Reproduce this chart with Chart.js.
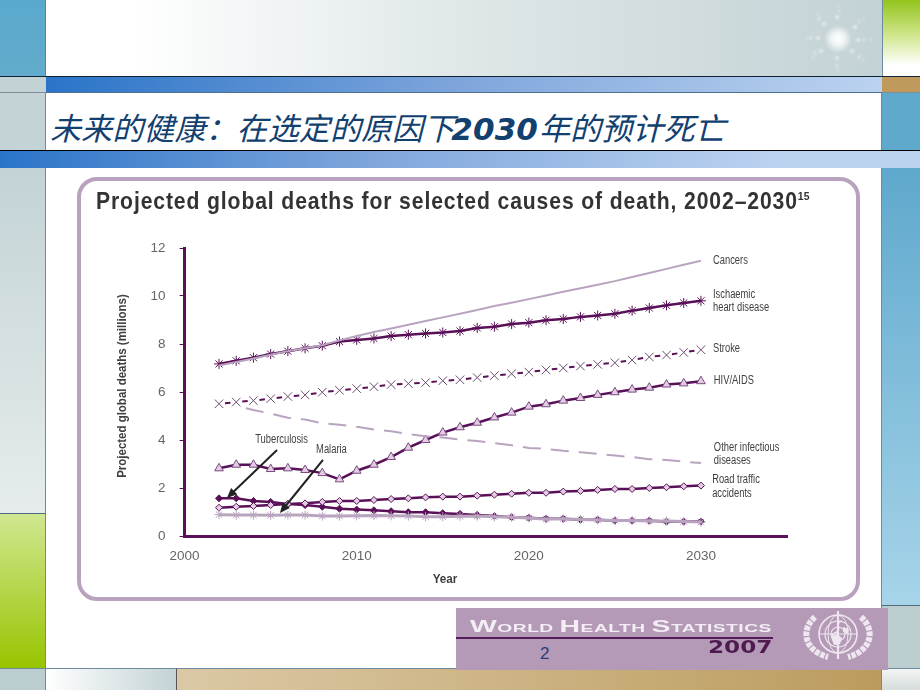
<!DOCTYPE html>
<html>
<head>
<meta charset="utf-8">
<title>Projected global deaths</title>
<script src="https://cdn.jsdelivr.net/npm/chart.js@4"></script>
<style>
  html, body { margin: 0; padding: 0; background: #fff; }
  #slide { position: relative; width: 920px; height: 690px; overflow: hidden; background: #fff; }
  #slide div.b { position: absolute; box-sizing: border-box; }
  #panel { left: 77px; top: 177px; width: 783px; height: 424px; background: #fff; border: 4px solid #b9a2bd; border-radius: 20px; }
  #chartCanvas { position: absolute; left: 77px; top: 177px; }
  #heading { position: absolute; left: 50px; top: 104px; white-space: nowrap; color: #12406f; font: italic 31px "Noto Sans CJK SC", sans-serif; line-height: 46px; letter-spacing: 0.1px; }
  #heading b { font: italic bold 31px "DejaVu Sans", sans-serif; margin-left: -3px; margin-right: 1px; }
  #wordmark { position: absolute; left: 470px; top: 618px; color: #f3edf4; font: bold 11.5px/18px "Liberation Sans", sans-serif; white-space: nowrap; letter-spacing: 0.3px; transform: scaleX(1.67); transform-origin: left top; }
  #wordmark span { font-size: 17px; }
  #year2007 { position: absolute; left: 708px; top: 639px; color: #4e1a50; font: bold 17px/17px "DejaVu Sans", sans-serif; transform: scaleX(1.36); transform-origin: left top; }
  #pageNo { position: absolute; left: 540px; top: 644px; color: #2c3a78; font: 17px "Liberation Sans", sans-serif; }
</style>
</head>
<body>
<div id="slide">
  <!-- top row -->
  <div class="b" style="left:0;top:0;width:46px;height:77px;background:linear-gradient(#5aa9cd,#62abcc);border-right:1px solid #4d86a6"></div>
  <div class="b" style="left:46px;top:0;width:836px;height:77px;background:linear-gradient(90deg,#fff 10%,#dfe7e8 50%,#c3d2d5 100%)"></div>
  <div class="b" style="left:882px;top:0;width:38px;height:77px;background:linear-gradient(#93c41d,#cfe58a 45%,#fff 85%);border-left:1px solid #6d8ba0"></div>
  <!-- upper band -->
  <div class="b" style="left:0;top:76px;width:46px;height:17px;background:#c3d2d5;border-top:1px solid #123;border-bottom:1px solid #7f8f99"></div>
  <div class="b" style="left:46px;top:76px;width:836px;height:17px;background:linear-gradient(90deg,#2a74c8,#7fa6dc 50%,#bcd3f0);border-top:1px solid #123;border-bottom:1px solid #50708f"></div>
  <div class="b" style="left:882px;top:76px;width:38px;height:17px;background:#bf9a5c;border-top:1px solid #123;border-bottom:1px solid #7f8f99"></div>
  <!-- heading row -->
  <div class="b" style="left:0;top:93px;width:46px;height:57px;background:#c3d3d6;border-right:1px solid #6d8ba0"></div>
  <div class="b" style="left:881px;top:93px;width:39px;height:57px;background:#5fa9cd;border-left:1px solid #6d8ba0"></div>
  <!-- lower band -->
  <div class="b" style="left:0;top:150px;width:920px;height:18px;background:linear-gradient(90deg,#2a74c8,#7fa6dc 40%,#bcd3f0 85%);border-top:1px solid #000"></div>
  <!-- side columns -->
  <div class="b" style="left:0;top:168px;width:46px;height:346px;background:linear-gradient(#c3d3d6,#e6ecec);border-right:1px solid #6d8ba0;border-bottom:1px solid #4d6a80"></div>
  <div class="b" style="left:0;top:514px;width:46px;height:155px;background:linear-gradient(#d0e791,#98c400);border-right:1px solid #6d8ba0"></div>
  <div class="b" style="left:0;top:668px;width:46px;height:22px;background:#bccdd0;border-top:1px solid #6d8ba0;border-right:1px solid #6d8ba0"></div>
  <div class="b" style="left:881px;top:168px;width:39px;height:437px;background:linear-gradient(#5ea8cd,#a7d4e9);border-left:1px solid #6d8ba0"></div>
  <div class="b" style="left:881px;top:605px;width:39px;height:64px;background:#bccdd0;border-left:1px solid #6d8ba0;border-top:1px solid #4d6a80"></div>
  <!-- bottom row -->
  <div class="b" style="left:46px;top:668px;width:131px;height:22px;background:linear-gradient(90deg,#fff,#c3d2d5);border-top:1px solid #6d8ba0;border-right:1px solid #555"></div>
  <div class="b" style="left:177px;top:668px;width:705px;height:22px;background:linear-gradient(90deg,#dbc8a5,#bb9c5e);border-top:1px solid #6d8ba0"></div>
  <div class="b" style="left:881px;top:668px;width:39px;height:22px;background:linear-gradient(#f4f4f4,#d5dcdc);border-top:1px solid #6d8ba0;border-left:1px solid #6d8ba0"></div>
  <!-- sparkle -->
  <svg style="position:absolute;left:800px;top:0" width="80" height="77">
    <defs>
      <radialGradient id="glow"><stop offset="0" stop-color="#fff"/><stop offset="0.45" stop-color="#fff" stop-opacity="0.75"/><stop offset="1" stop-color="#fff" stop-opacity="0"/></radialGradient>
      <filter id="soft"><feGaussianBlur stdDeviation="0.8"/></filter>
    </defs>
    <circle cx="38" cy="39" r="14" fill="url(#glow)"/>
    <g fill="#fff" fill-opacity="0.55" filter="url(#soft)">
      <circle cx="37" cy="17" r="2"/><circle cx="39" cy="11" r="1.2"/><circle cx="38" cy="6" r="1"/>
      <circle cx="55" cy="27" r="2"/><circle cx="59" cy="21" r="1.2"/><circle cx="64" cy="19" r="1"/>
      <circle cx="58" cy="40" r="2"/><circle cx="64" cy="40" r="1.4"/><circle cx="70" cy="40" r="1"/>
      <circle cx="52" cy="51" r="2"/><circle cx="59" cy="57" r="1.4"/><circle cx="63" cy="60" r="1"/>
      <circle cx="37" cy="58" r="2"/><circle cx="37" cy="66" r="1.4"/><circle cx="38" cy="70" r="1"/>
      <circle cx="21" cy="51" r="2"/><circle cx="15" cy="53" r="1.4"/><circle cx="13" cy="58" r="1"/>
      <circle cx="18" cy="38" r="2"/><circle cx="11" cy="38" r="1.4"/><circle cx="7" cy="38" r="1"/>
      <circle cx="24" cy="24" r="2"/><circle cx="19" cy="19" r="1.4"/><circle cx="18" cy="14" r="1"/>
    </g>
  </svg>
  <div id="heading">未来的健康：在选定的原因下<b>2030</b>年的预计死亡</div>
  <div class="b" id="panel"></div>
  <canvas id="chartCanvas" width="783" height="424"></canvas>
  <!-- report logo -->
  <div class="b" style="left:456px;top:608px;width:432px;height:62px;background:#b59ab8"></div>
  <div class="b" style="left:456px;top:637px;width:317px;height:2px;background:#551b57"></div>
  <div id="wordmark"><span>W</span>ORLD <span>H</span>EALTH <span>S</span>TATISTICS</div>
  <div id="year2007">2007</div>
  <div id="pageNo">2</div>
  <svg style="position:absolute;left:802px;top:609px" width="72" height="54">
    <g fill="none" stroke="#efe7f0">
      <circle cx="36" cy="25" r="19" stroke-width="1.6"/>
      <circle cx="36" cy="25" r="13" stroke-width="1.2"/>
      <circle cx="36" cy="25" r="7" stroke-width="1.2"/>
      <ellipse cx="36" cy="25" rx="10" ry="19" stroke-width="1"/>
      <path d="M17 25H55" stroke-width="1"/>
      <path d="M36 2V50" stroke-width="2.2"/>
      <path d="M40 12C30 15 42 20 33 24S42 30 35 36" stroke-width="1.8"/>
      <path d="M13 8C-1 20 1 41 26 48M59 8C73 20 71 41 46 48" stroke-width="6" stroke-dasharray="4.5 1.2"/>
    </g>
    <path d="M29 28l6-3 5 4-2 6-6 1zM41 18l6 2-1 5-5-2z" fill="#efe7f0"/>
  </svg>
</div>

<script>
// year 2002..2030, values in millions
const years = [2002, 2003, 2004, 2005, 2006, 2007, 2008, 2009, 2010, 2011, 2012, 2013, 2014, 2015, 2016, 2017, 2018, 2019, 2020, 2021, 2022, 2023, 2024, 2025, 2026, 2027, 2028, 2029, 2030];
const cancers = [7.1, 7.25, 7.4, 7.55, 7.7, 7.82, 7.95, 8.15, 8.33, 8.5, 8.65, 8.8, 8.96, 9.11, 9.26, 9.42, 9.58, 9.72, 9.87, 10.02, 10.18, 10.32, 10.47, 10.62, 10.79, 10.96, 11.13, 11.3, 11.47];
const ischaemic = [7.17, 7.3, 7.43, 7.58, 7.7, 7.82, 7.93, 8.1, 8.17, 8.23, 8.33, 8.39, 8.44, 8.48, 8.54, 8.67, 8.72, 8.83, 8.89, 8.99, 9.04, 9.13, 9.19, 9.26, 9.39, 9.5, 9.61, 9.71, 9.8];
const stroke = [5.51, 5.58, 5.64, 5.72, 5.81, 5.88, 5.99, 6.07, 6.14, 6.22, 6.31, 6.35, 6.39, 6.47, 6.51, 6.6, 6.68, 6.76, 6.83, 6.92, 7.0, 7.08, 7.15, 7.22, 7.33, 7.46, 7.54, 7.65, 7.76];
const hivAids = [2.82, 2.97, 2.97, 2.79, 2.82, 2.75, 2.62, 2.36, 2.72, 2.97, 3.29, 3.68, 4.0, 4.31, 4.53, 4.72, 4.94, 5.14, 5.39, 5.49, 5.64, 5.75, 5.88, 5.99, 6.1, 6.18, 6.31, 6.36, 6.45];
const otherInfectious = [null, 5.42, 5.25, 5.1, 4.93, 4.85, 4.7, 4.64, 4.55, 4.44, 4.36, 4.25, 4.16, 4.1, 4.02, 3.96, 3.87, 3.78, 3.67, 3.63, 3.55, 3.49, 3.42, 3.35, 3.29, 3.2, 3.17, 3.1, 3.04];
const roadTraffic = [1.18, 1.22, 1.25, 1.29, 1.33, 1.36, 1.42, 1.46, 1.46, 1.5, 1.54, 1.57, 1.61, 1.64, 1.64, 1.68, 1.72, 1.76, 1.8, 1.8, 1.85, 1.88, 1.92, 1.96, 1.96, 2.0, 2.03, 2.07, 2.1];
const tuberculosis = [1.57, 1.57, 1.46, 1.42, 1.33, 1.29, 1.22, 1.14, 1.1, 1.07, 1.03, 0.99, 0.99, 0.95, 0.92, 0.88, 0.83, 0.78, 0.76, 0.72, 0.72, 0.68, 0.68, 0.64, 0.64, 0.64, 0.6, 0.6, 0.6];
const malaria = [0.89, 0.87, 0.87, 0.86, 0.87, 0.87, 0.83, 0.83, 0.84, 0.85, 0.84, 0.83, 0.8, 0.8, 0.82, 0.83, 0.8, 0.78, 0.75, 0.7, 0.72, 0.69, 0.67, 0.65, 0.65, 0.63, 0.62, 0.6, 0.58];

const xTicks = [2000, 2010, 2020, 2030];
const yTicks = [0, 2, 4, 6, 8, 10, 12];

const dark = '#5a1058';
const light = '#b9a4bf';
const mauve = '#e2cde3';

// text beside the lines, placed in data units
const notes = [
  { text: 'Cancers', x: 2030.7, y: 11.46 },
  { text: 'Ischaemic', x: 2030.7, y: 10.04 },
  { text: 'heart disease', x: 2030.7, y: 9.5 },
  { text: 'Stroke', x: 2030.7, y: 7.79 },
  { text: 'HIV/AIDS', x: 2030.75, y: 6.46 },
  { text: 'Other infectious', x: 2030.75, y: 3.67 },
  { text: 'diseases', x: 2030.75, y: 3.12 },
  { text: 'Road traffic', x: 2030.65, y: 2.33 },
  { text: 'accidents', x: 2030.65, y: 1.75 },
  { text: 'Tuberculosis', x: 2004.1, y: 4.0 },
  { text: 'Malaria', x: 2007.64, y: 3.6 },
];

const arrows = [
  { from: [2005.37, 3.58], to: [2002.46, 1.58] },
  { from: [2008.04, 3.17], to: [2005.54, 0.96] },
];

const toPoints = (values) => values.map((v, i) => ({ x: years[i], y: v }));

// no condensed font is installed, so squeeze the text sideways
const squeezed = (ctx, text, x, y, squeeze) => {
  ctx.save();
  ctx.translate(x, y);
  ctx.scale(squeeze, 1);
  ctx.fillText(text, 0, 0);
  ctx.restore();
};

const slidePlugin = {
  id: 'slideNotes',
  afterDatasetsDraw(chart) {
    const { ctx, scales } = chart;
    const x = scales.x;
    const y = scales.y;

    ctx.save();
    ctx.fillStyle = '#3f3f3f';
    ctx.textAlign = 'left';
    ctx.textBaseline = 'middle';
    ctx.font = '12px "Liberation Sans", sans-serif';
    notes.forEach((n) => {
      squeezed(ctx, n.text, x.getPixelForValue(n.x), y.getPixelForValue(n.y), 0.78);
    });

    // arrows from the two labels
    ctx.strokeStyle = '#222';
    ctx.fillStyle = '#222';
    ctx.lineWidth = 2;
    arrows.forEach((a) => {
      const x1 = x.getPixelForValue(a.from[0]);
      const y1 = y.getPixelForValue(a.from[1]);
      const x2 = x.getPixelForValue(a.to[0]);
      const y2 = y.getPixelForValue(a.to[1]);
      const ang = Math.atan2(y2 - y1, x2 - x1);
      ctx.beginPath();
      ctx.moveTo(x1, y1);
      ctx.lineTo(x2 - 8 * Math.cos(ang), y2 - 8 * Math.sin(ang));
      ctx.stroke();
      ctx.beginPath();
      ctx.moveTo(x2, y2);
      ctx.lineTo(x2 - 11 * Math.cos(ang - 0.42), y2 - 11 * Math.sin(ang - 0.42));
      ctx.lineTo(x2 - 11 * Math.cos(ang + 0.42), y2 - 11 * Math.sin(ang + 0.42));
      ctx.closePath();
      ctx.fill();
    });

    // chart heading
    ctx.fillStyle = '#333';
    ctx.font = 'bold 24px "Liberation Sans", sans-serif';
    ctx.letterSpacing = '1px';
    const headingText = 'Projected global deaths for selected causes of death, 2002–2030';
    squeezed(ctx, headingText, 19, 25, 0.881);
    const headingEnd = 19 + ctx.measureText(headingText).width * 0.881;
    ctx.letterSpacing = '0px';
    ctx.font = 'bold 11px "Liberation Sans", sans-serif';
    squeezed(ctx, '15', headingEnd, 20, 0.95);

    // axis titles sit off the axis centre in the original
    ctx.fillStyle = '#3f3f3f';
    ctx.textAlign = 'center';
    ctx.font = 'bold 13px "Liberation Sans", sans-serif';
    squeezed(ctx, 'Year', x.getPixelForValue(2015.13), y.getPixelForValue(-1.83), 0.9);
    ctx.font = 'bold 13.5px "Liberation Sans", sans-serif';
    ctx.translate(x.getPixelForValue(1996.4), y.getPixelForValue(6.25));
    ctx.rotate(-Math.PI / 2);
    squeezed(ctx, 'Projected global deaths (millions)', 0, 0, 0.85);
    ctx.restore();
  },
};

new Chart(document.getElementById('chartCanvas').getContext('2d'), {
  type: 'line',
  data: {
    datasets: [
      {
        label: 'Cancers',
        data: toPoints(cancers),
        borderColor: light,
        borderWidth: 2,
        pointRadius: 0,
      },
      {
        label: 'Other infectious diseases',
        data: toPoints(otherInfectious),
        borderColor: light,
        borderWidth: 2,
        borderDash: [18, 10],
        borderDashOffset: 18,
        pointRadius: 0,
      },
      {
        label: 'Malaria',
        data: toPoints(malaria),
        borderColor: light,
        borderWidth: 3,
        pointStyle: 'star',
        pointRadius: 4.5,
        pointBorderColor: light,
        pointBorderWidth: 1,
      },
      {
        label: 'Ischaemic heart disease',
        data: toPoints(ischaemic),
        borderColor: dark,
        borderWidth: 2.5,
        pointStyle: 'star',
        pointRadius: 5,
        pointBorderColor: dark,
        pointBorderWidth: 1,
      },
      {
        label: 'Stroke',
        data: toPoints(stroke),
        borderColor: dark,
        borderWidth: 2,
        borderDash: [5.5, 11.8],
        borderDashOffset: 11.3,
        pointStyle: 'crossRot',
        pointRadius: 6,
        pointBorderColor: '#6b4a70',
        pointBorderWidth: 1,
      },
      {
        label: 'HIV/AIDS',
        data: toPoints(hivAids),
        borderColor: dark,
        borderWidth: 2.5,
        pointStyle: 'triangle',
        pointRadius: 5,
        pointBackgroundColor: mauve,
        pointBorderColor: '#7a4a80',
        pointBorderWidth: 1,
      },
      {
        label: 'Road traffic accidents',
        data: toPoints(roadTraffic),
        borderColor: dark,
        borderWidth: 2.5,
        pointStyle: 'rectRot',
        pointRadius: 3.5,
        pointBackgroundColor: mauve,
        pointBorderColor: dark,
        pointBorderWidth: 1,
      },
      {
        label: 'Tuberculosis',
        data: toPoints(tuberculosis),
        borderColor: dark,
        borderWidth: 2.5,
        pointStyle: 'rectRot',
        pointRadius: 3.5,
        pointBackgroundColor: dark,
        pointBorderColor: dark,
        pointBorderWidth: 1,
      },
    ],
  },
  options: {
    responsive: false,
    animation: false,
    layout: {
      padding: { left: 19, right: 73, top: 71, bottom: 0 },
    },
    plugins: {
      legend: { display: false },
      tooltip: { enabled: false },
    },
    scales: {
      x: {
        type: 'linear',
        min: 2000,
        max: 2035,
        afterFit: (axis) => { axis.height = 65; },
        afterBuildTicks: (axis) => { axis.ticks = xTicks.map((v) => ({ value: v })); },
        border: { display: true, color: dark, width: 3 },
        grid: { display: false },
        ticks: {
          color: '#666',
          font: { family: '"Liberation Sans", sans-serif', size: 13.5 },
          padding: 4,
          maxRotation: 0,
          callback: (v) => String(v),
        },
      },
      y: {
        min: 0,
        max: 12,
        afterFit: (axis) => { axis.width = 88.6; },
        afterBuildTicks: (axis) => { axis.ticks = yTicks.map((v) => ({ value: v })); },
        border: { display: true, color: dark, width: 3 },
        grid: { drawOnChartArea: false, drawTicks: true, tickLength: 5, color: dark },
        ticks: {
          color: '#666',
          font: { family: '"Liberation Sans", sans-serif', size: 13.5 },
          padding: 14,
        },
      },
    },
  },
  plugins: [slidePlugin],
});
</script>
</body>
</html>
